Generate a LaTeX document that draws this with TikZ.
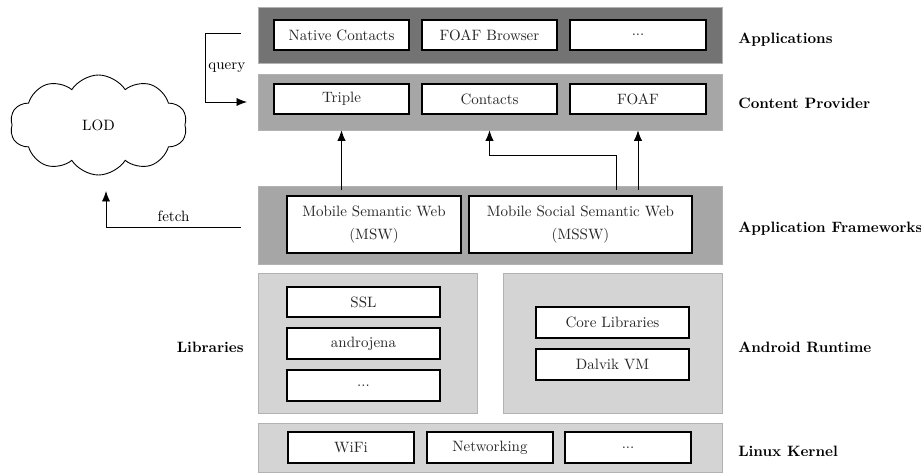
\documentclass[tikz,border=0pt]{standalone}
\usetikzlibrary{shapes.symbols,arrows.meta}

\begin{document}
\begin{tikzpicture}[x=0.6667pt,y=-0.6667pt,
	size/.style 2 args={minimum width=#1*2pt/3,minimum height=#2*2pt/3},
	layer/.style={draw=black!30,inner sep=0pt},
	box/.style={draw,fill=white,line width=0.7pt,inner sep=0pt,text=black!85},
	lbl/.style={font=\bfseries,anchor=west},
	flow/.style={-{Latex[length=7pt,width=5.5pt]},line width=0.6pt}]

	\useasboundingbox (0,0) rectangle (921,473);

	% layers
	\node[layer,fill=black!55,size={464}{56}] (apps) at (490,35) {};
	\node[layer,fill=black!35,size={464}{56}] (cprov) at (490,102) {};
	\node[layer,fill=black!35,size={464}{78}] (frame) at (490,225) {};
	\node[layer,fill=black!17,size={219}{140}] (libs) at (367.5,343) {};
	\node[layer,fill=black!17,size={219}{140}] (rt) at (612.5,343) {};
	\node[layer,fill=black!17,size={464}{49}] (kern) at (490,447.5) {};

	% applications
	\node[box,size={135}{30}] (natc) at (341.5,35) {Native Contacts};
	\node[box,size={135}{30}] (foafb) at (489.5,35) {FOAF Browser};
	\node[box,size={136}{30}] (appdots) at (638,35) {...};

	% content provider
	\node[box,size={135}{30}] (triple) at (341.5,99) {Triple};
	\node[box,size={135}{30}] (contacts) at (489.5,99) {Contacts};
	\node[box,size={136}{30}] (foaf) at (638,99) {FOAF};

	% frameworks
	\node[box,size={174}{57},align=center] (msw) at (374,224.5) {Mobile Semantic Web\\[3pt](MSW)};
	\node[box,size={223}{57},align=center] (mssw) at (580.5,224.5) {Mobile Social Semantic Web\\[3pt](MSSW)};

	% libraries
	\node[box,size={153}{30}] (ssl) at (363.5,302) {SSL};
	\node[box,size={153}{31}] (andro) at (363.5,343.5) {androjena};
	\node[box,size={153}{31}] (libdots) at (363.5,385.5) {...};

	% runtime
	\node[box,size={153}{31}] (core) at (612.5,322.5) {Core Libraries};
	\node[box,size={153}{31}] (dalvik) at (612.5,364.5) {Dalvik VM};

	% kernel
	\node[box,size={126}{31}] (wifi) at (351,447.5) {WiFi};
	\node[box,size={126}{31}] (netw) at (490,447.5) {Networking};
	\node[box,size={126}{31}] (kdots) at (628,447.5) {...};

	% layer names
	\node[lbl] (lapps) at (733,40) {Applications};
	\node[lbl] (lcprov) at (733,103) {Content Provider};
	\node[lbl] (lframe) at (733,229) {Application Frameworks};
	\node[lbl] (lrt) at (733,347) {Android Runtime};
	\node[lbl] (lkern) at (733,451) {Linux Kernel};
	\node[font=\bfseries,anchor=east] (llibs) at (249,347) {Libraries};

	% cloud
	\node[cloud,draw,line width=0.6pt,cloud puffs=10,cloud puff arc=115,aspect=1.8,
		inner sep=0pt,size={177}{100}] (lod) at (98.5,125) {LOD};

	% connectors
	\coordinate (qs) at (241,33);
	\coordinate (qe) at (247,102);
	\draw[flow] (qs) -- (205,33) |- (qe) node[pos=0.25,anchor=west,inner sep=2pt] {query};

	\coordinate (fs) at (241,227);
	\coordinate (fe) at (106,191);
	\draw[flow] (fs) -| (fe) node[pos=0.25,above] {fetch};

	\coordinate (m1) at (341.5,190);
	\coordinate (m2) at (616,190);
	\coordinate (m3) at (638,190);
	\draw[flow] (m1) -- (triple |- cprov.south);
	\draw[flow] (m2) -- (616,155) -| (contacts |- cprov.south);
	\draw[flow] (m3) -- (foaf |- cprov.south);
\end{tikzpicture}
\end{document}
